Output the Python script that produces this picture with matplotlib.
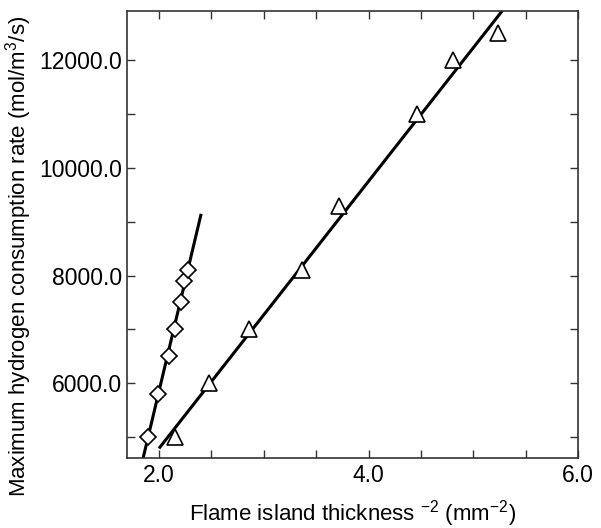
import numpy as np
import matplotlib.pyplot as plt

plt.rcParams['font.family'] = ['Liberation Sans', 'DejaVu Sans']
plt.rcParams['mathtext.fontset'] = 'custom'
plt.rcParams['mathtext.rm'] = 'Liberation Sans'
plt.rcParams['mathtext.it'] = 'Liberation Sans'
plt.rcParams['mathtext.default'] = 'regular'

# diamond series (steep branch)
diam_x = [1.898, 1.993, 2.095, 2.155, 2.207, 2.240, 2.276]
diam_y = [5000, 5800, 6500, 7000, 7500, 7900, 8100]
diam_fit_x = [1.85, 2.40]
diam_fit_y = [4610, 9120]

# triangle series
tri_x = [2.152, 2.476, 2.86, 3.369, 3.714, 4.46, 4.81, 5.24]
tri_y = [5000, 6000, 7000, 8100, 9300, 11000, 12000, 12500]
tri_fit_x = [2.01, 5.30]
tri_fit_y = [4810, 12980]

xticks = np.arange(2.0, 6.01, 0.5)
yticks = np.arange(5000, 12001, 1000)

fig = plt.figure(figsize=(6.01, 5.28), dpi=100)
ax = fig.add_axes([0.212, 0.1326, 0.750, 0.8464])

ax.plot(diam_fit_x, diam_fit_y, color='black', lw=2.2, zorder=2)
ax.plot(tri_fit_x, tri_fit_y, color='black', lw=2.2, zorder=2)
ax.plot(diam_x, diam_y, ls='none', marker='D', ms=8.2, mfc='white',
        mec='black', mew=1.2, zorder=3)
ax.plot(tri_x, tri_y, ls='none', marker='^', ms=11.5, mfc='white',
        mec='black', mew=1.2, zorder=3)

ax.set_xlim(1.7, 6.0)
ax.set_ylim(4610, 12915)

ax.set_xticks(xticks)
ax.set_xticklabels(['%.1f' % v if abs(v % 2) < 1e-9 else '' for v in xticks])
ax.set_yticks(yticks)
ax.set_yticklabels(['%.1f' % v if v % 2000 == 0 else '' for v in yticks])
ax.tick_params(direction='in', length=6, width=1.0, top=True, right=True,
               labelsize=16.5, pad=4, color='#333333')
for s in ax.spines.values():
    s.set_linewidth(1.2)
    s.set_color('#333333')

ax.set_xlabel(r'Flame island thickness $^{-2}$ (mm$^{-2}$)', fontsize=16, labelpad=8)
ax.set_ylabel(r'Maximum hydrogen consumption rate (mol/m$^3$/s)', fontsize=16)
ax.yaxis.set_label_coords(-0.208, 0.45)

fig.savefig('out.png', dpi=100)
